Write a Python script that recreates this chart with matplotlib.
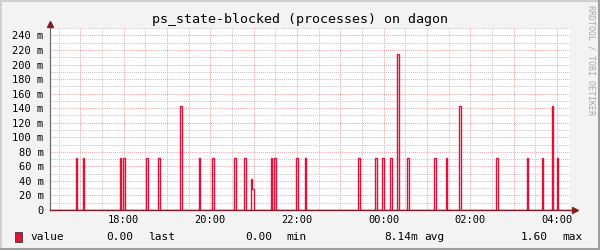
import numpy as np
import matplotlib
matplotlib.use("Agg")
import matplotlib.pyplot as plt
from matplotlib.patches import Rectangle

# ---- data ----
# start of each "blocked" pulse (clock time, after midnight = next day),
# pulse length in seconds and value in processes
pulse_start = ["16:54:20", "17:03:55", "17:55:10", "17:59:40", "18:31:05",
               "18:48:10", "19:18:10", "19:44:30", "20:02:30", "20:32:55",
               "20:46:50", "20:56:30", "20:57:50", "21:24:35", "21:28:40",
               "21:59:10", "22:11:10", "23:24:35", "23:48:05", "23:57:50",
               "00:08:55", "00:18:30", "00:32:25", "01:09:50", "01:26:25",
               "01:44:25", "02:35:10", "03:18:30", "03:38:50", "03:52:40",
               "03:59:35"]
pulse_len = [80, 80, 80, 160, 160,
             160, 160, 80, 160, 160,
             160, 80, 140, 80, 160,
             160, 80, 160, 160, 160,
             160, 160, 160, 160, 80,
             180, 160, 80, 80, 80,
             80]
pulse_val = [0.0714, 0.0714, 0.0714, 0.0714, 0.0714,
             0.0714, 0.1429, 0.0714, 0.0714, 0.0714,
             0.0714, 0.0429, 0.0286, 0.0714, 0.0714,
             0.0714, 0.0714, 0.0714, 0.0714, 0.0714,
             0.0714, 0.2143, 0.0714, 0.0714, 0.0714,
             0.1429, 0.0714, 0.0714, 0.0714, 0.1429,
             0.0714]

t_begin, t_end = 16.3, 28.3          # hours, 16:18 -> 04:18 next day
y_max = 0.25
title = "ps_state-blocked (processes) on dagon"
legend_items = [("value", 30, "left"), ("0.00", 133, "right"), ("last", 148, "left"),
                ("0.00", 272, "right"), ("min", 286, "left"),
                ("8.14m", 418, "right"), ("avg", 424, "left"),
                ("1.60", 548, "right"), ("max", 562, "left")]

LINE = "#dc143c"
MONO = "DejaVu Sans Mono"


def to_hours(s):
    h, m, sec = (int(p) for p in s.split(":"))
    if h < 12:
        h += 24
    return h + m / 60 + sec / 3600


# build step series: zero between pulses
edges = [t_begin]
vals = []
for s, d, v in zip(pulse_start, pulse_len, pulse_val):
    t0 = to_hours(s)
    t1 = t0 + d / 3600
    if t0 > edges[-1] + 1e-4:
        vals.append(0.0)
        edges.append(t0)
    else:
        edges[-1] = t0
    vals.append(v)
    edges.append(t1)
vals.append(0.0)
edges.append(t_end)

W, H = 600, 250
fig = plt.figure(figsize=(6, 2.5), dpi=100)
fig.patch.set_facecolor("#f3f3f3")

# 3d-ish border like rrdtool
fig.patches.append(Rectangle((0, 0), 1, 1, transform=fig.transFigure, fill=False,
                             ec="#cfcfcf", lw=2.2))
fig.add_artist(plt.Line2D([0, 1], [1 / H, 1 / H], transform=fig.transFigure, color="#9e9e9e", lw=1.5))
fig.add_artist(plt.Line2D([1 - 1 / W, 1 - 1 / W], [0, 1], transform=fig.transFigure, color="#9e9e9e", lw=1.5))

ax = fig.add_axes([50 / W, 40 / H, 520 / W, (210 - 28.2) / H])
ax.set_facecolor("white")

ax.stairs(vals, edges, baseline=None, color=LINE, lw=1.0, zorder=3)

ax.set_xlim(t_begin, t_end)
ax.set_ylim(0, y_max)

hours = np.arange(17, 29)
ax.set_xticks(hours)
ax.set_xticklabels(["%02d:00" % (h % 24) if h % 2 == 0 else "" for h in hours])
ax.set_xticks(np.arange(16.5, 28.5, 1), minor=True)

yt = np.arange(0, 0.241, 0.02)
ax.set_yticks(yt)
ax.set_yticklabels(["0" if v == 0 else "%d m" % round(v * 1000) for v in yt])
ax.set_yticks(np.arange(0.01, 0.251, 0.02), minor=True)

ax.grid(which="minor", color="#c7c7c7", lw=0.75, linestyle=(0, (1, 1)))
ax.grid(which="major", color="#efa8a8", lw=0.75, linestyle=(0, (1, 1)))
ax.set_axisbelow(True)

ax.tick_params(which="both", length=0)
ax.tick_params(axis="y", pad=4.5, labelsize=7.5)
ax.tick_params(axis="x", pad=3.5, labelsize=7.5)
for lab in ax.get_xticklabels() + ax.get_yticklabels():
    lab.set_fontfamily(MONO)

for sp in ["top", "right", "left", "bottom"]:
    ax.spines[sp].set_visible(False)

# axes with arrows
ax.plot([0, 0], [0, 1.03], transform=ax.transAxes, color="#606060", lw=0.8, clip_on=False, zorder=4)
ax.plot([0, 1.01], [0, 0], transform=ax.transAxes, color="#7a1f2b", lw=1.0, clip_on=False, zorder=4)
ax.plot([0], [1.025], transform=ax.transAxes, marker="^", ms=4.5, color="#802020", clip_on=False, zorder=5)
ax.plot([1.01], [0], transform=ax.transAxes, marker=">", ms=4.5, color="#802020", clip_on=False, zorder=5)

fig.text(0.5, 1 - 19 / H, title, ha="center", va="center", fontsize=9.6, family=MONO)
fig.text(591 / W, 1 - 5 / H, "RRDTOOL / TOBI OETIKER", rotation=270, ha="center", va="top",
         fontsize=6, family=MONO, color="#a8a8a8")

# legend line
fig.patches.append(Rectangle((15 / W, 1 - 242 / H), 7 / W, 10 / H, transform=fig.transFigure,
                             fc=LINE, ec="#202020", lw=0.5))
for txt, x, ha in legend_items:
    fig.text(x / W, 1 - 237 / H, txt, ha=ha, va="center", fontsize=8, family=MONO)

fig.savefig("out.png", dpi=100, facecolor=fig.get_facecolor())
